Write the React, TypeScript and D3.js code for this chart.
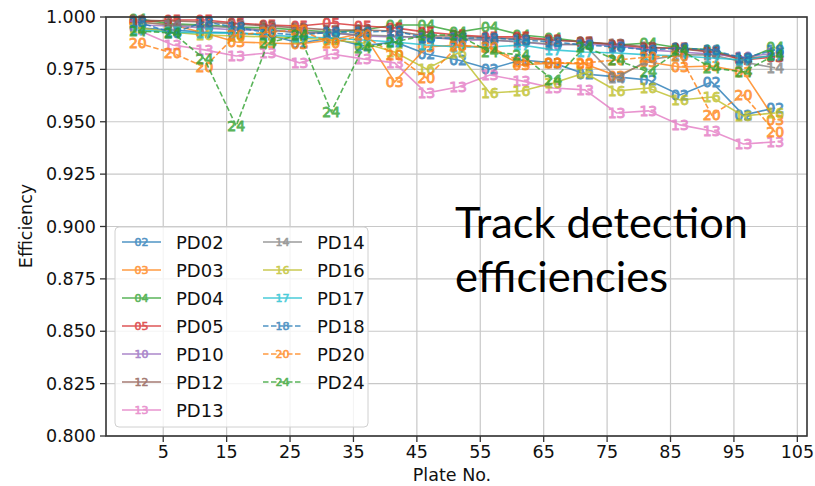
import React from "react";
import * as d3 from "d3";

const plates = [1, 6.5, 11.5, 16.5, 21.5, 26.5, 31.5, 36.5, 41.5, 46.5, 51.5, 56.5, 61.5, 66.5, 71.5, 76.5, 81.5, 86.5, 91.5, 96.5, 101.5];

const pd02 = [0.9948, 0.9938, 0.9928, 0.9924, 0.9914, 0.9876, 0.99, 0.9862, 0.9881, 0.9823, 0.9795, 0.9752, 0.9795, 0.9781, 0.9728, 0.9714, 0.9699, 0.9628, 0.969, 0.9532, 0.9566];
const pd03 = [0.9976, 0.9962, 0.9924, 0.9881, 0.9876, 0.9871, 0.989, 0.9924, 0.969, 0.9857, 0.9866, 0.9852, 0.9771, 0.9781, 0.9776, 0.9719, 0.9785, 0.9761, 0.9766, 0.9738, 0.9509];
const pd04 = [0.999, 0.9967, 0.9962, 0.9952, 0.9948, 0.9938, 0.9928, 0.9938, 0.9962, 0.9962, 0.9928, 0.9952, 0.9914, 0.99, 0.9881, 0.9866, 0.9876, 0.9852, 0.9843, 0.9795, 0.9857];
const pd05 = [0.9976, 0.9986, 0.9986, 0.9971, 0.9962, 0.9957, 0.9971, 0.9957, 0.9948, 0.9928, 0.9914, 0.9905, 0.9905, 0.989, 0.9881, 0.9866, 0.9852, 0.9852, 0.9833, 0.9795, 0.9809];
const pd10 = [0.9962, 0.9957, 0.9948, 0.9938, 0.9938, 0.9928, 0.9924, 0.9909, 0.9905, 0.9905, 0.989, 0.989, 0.9881, 0.9866, 0.9871, 0.9862, 0.9843, 0.9833, 0.9823, 0.9809, 0.9828];
const pd12 = [0.9986, 0.9981, 0.9976, 0.9967, 0.9957, 0.9948, 0.9938, 0.9938, 0.9933, 0.9909, 0.9909, 0.99, 0.9895, 0.989, 0.9881, 0.9871, 0.9857, 0.9847, 0.9833, 0.9804, 0.9814];
const pd13 = [0.9938, 0.9866, 0.9843, 0.9814, 0.9828, 0.9781, 0.9823, 0.98, 0.9781, 0.9637, 0.9666, 0.9723, 0.9695, 0.9661, 0.9652, 0.9542, 0.9552, 0.9485, 0.9456, 0.9394, 0.9404];
const pd14 = [0.9976, 0.9962, 0.9957, 0.9948, 0.9938, 0.9924, 0.9924, 0.9914, 0.9909, 0.99, 0.99, 0.989, 0.9881, 0.9871, 0.9866, 0.9709, 0.9795, 0.9819, 0.9819, 0.9785, 0.9757];
const pd16 = [0.9948, 0.9928, 0.9914, 0.9909, 0.9905, 0.99, 0.989, 0.9876, 0.9833, 0.9752, 0.9828, 0.9637, 0.9647, 0.9685, 0.9733, 0.9647, 0.9661, 0.9604, 0.9618, 0.9528, 0.9542];
const pd17 = [0.9938, 0.9928, 0.9924, 0.9924, 0.9914, 0.9905, 0.99, 0.989, 0.9881, 0.9866, 0.9857, 0.9857, 0.9866, 0.9843, 0.9833, 0.9828, 0.9819, 0.9814, 0.9804, 0.9795, 0.9819];
const pd18 = [0.9976, 0.9924, 0.9976, 0.9952, 0.9924, 0.9914, 0.9928, 0.9928, 0.9933, 0.99, 0.99, 0.99, 0.989, 0.9881, 0.9866, 0.9857, 0.9843, 0.9852, 0.9843, 0.9804, 0.9843];
const pd20 = [0.9876, 0.9828, 0.9761, 0.9914, 0.9928, 0.9938, 0.9876, 0.9914, 0.9819, 0.9709, 0.9862, 0.9857, 0.9785, 0.9781, 0.9781, 0.9795, 0.9809, 0.9814, 0.9532, 0.9628, 0.9451];
const pd24 = [0.9933, 0.9924, 0.98, 0.948, 0.9876, 0.9914, 0.9547, 0.9852, 0.9881, 0.9914, 0.9914, 0.9833, 0.9819, 0.9699, 0.9857, 0.9795, 0.9738, 0.9843, 0.9757, 0.9738, 0.9819];

const seriesNames = ["PD02", "PD03", "PD04", "PD05", "PD10", "PD12", "PD13", "PD14", "PD16", "PD17", "PD18", "PD20", "PD24"];
const markerLabels = ["02", "03", "04", "05", "10", "12", "13", "14", "16", "17", "18", "20", "24"];
const seriesValues = [pd02, pd03, pd04, pd05, pd10, pd12, pd13, pd14, pd16, pd17, pd18, pd20, pd24];
const seriesColors = ["#1f77b4", "#ff7f0e", "#2ca02c", "#d62728", "#9467bd", "#8c564b", "#e377c2", "#7f7f7f", "#bcbd22", "#17becf", "#1f77b4", "#ff7f0e", "#2ca02c"];
const seriesDashed = [false, false, false, false, false, false, false, false, false, false, true, true, true];

const xTicks = [5, 15, 25, 35, 45, 55, 65, 75, 85, 95, 105];
const yTicks = [0.8, 0.825, 0.85, 0.875, 0.9, 0.925, 0.95, 0.975, 1.0];

const titleLines = ["Track detection", "efficiencies"];

const FONT = "'DejaVu Sans', sans-serif";

export default function App() {
  const W = 815;
  const H = 486;
  const left = 106, right = 807, top = 17, bottom = 436;
  const x = d3.scaleLinear().domain([-4.025, 106.525]).range([left, right]);
  const y = d3.scaleLinear().domain([0.8, 1.0]).range([bottom, top]);
  const line = d3
    .line<number>()
    .x((_, i) => x(plates[i]))
    .y((d) => y(d));

  const legendX = 115, legendY = 227, legendW = 253, legendH = 200;
  const rowH = 28;
  const firstRow = 242;

  return (
    <svg
      width={W}
      height={H}
      viewBox={`0 0 ${W} ${H}`}
      style={{ position: "absolute", left: 0, top: 0, background: "#fff" }}
      fontFamily={FONT}
    >
      <rect x={0} y={0} width={W} height={H} fill="#fff" />
      {/* grid */}
      <g stroke="#c8c8c8" strokeWidth={1.2}>
        {xTicks.map((t) => (
          <line key={"gx" + t} x1={x(t)} x2={x(t)} y1={top} y2={bottom} />
        ))}
        {yTicks.map((t) => (
          <line key={"gy" + t} x1={left} x2={right} y1={y(t)} y2={y(t)} />
        ))}
      </g>
      {/* series */}
      {seriesValues.map((vals, si) => (
        <g key={seriesNames[si]} opacity={0.78}>
          <path
            d={line(vals) || ""}
            fill="none"
            stroke={seriesColors[si]}
            strokeWidth={1.6}
            strokeDasharray={seriesDashed[si] ? "5.5,2.5" : undefined}
          />
          {vals.map((v, i) => (
            <text
              key={i}
              x={x(plates[i])}
              y={y(v)}
              textAnchor="middle"
              dominantBaseline="central"
              fontSize={14}
              fill={seriesColors[si]}
              stroke={seriesColors[si]}
              strokeWidth={0.9}
            >
              {markerLabels[si]}
            </text>
          ))}
        </g>
      ))}
      {/* axes frame */}
      <rect x={left} y={top} width={right - left} height={bottom - top} fill="none" stroke="#333" strokeWidth={1.6} />
      {/* ticks */}
      <g stroke="#333" strokeWidth={1.3}>
        {xTicks.map((t) => (
          <line key={"tx" + t} x1={x(t)} x2={x(t)} y1={bottom} y2={bottom + 6} />
        ))}
        {yTicks.map((t) => (
          <line key={"ty" + t} x1={left - 6} x2={left} y1={y(t)} y2={y(t)} />
        ))}
      </g>
      <g fontSize={17.5} fill="#111">
        {xTicks.map((t) => (
          <text key={"lx" + t} x={x(t)} y={bottom + 22} textAnchor="middle">
            {t}
          </text>
        ))}
        {yTicks.map((t) => (
          <text key={"ly" + t} x={left - 10} y={y(t)} textAnchor="end" dominantBaseline="central">
            {d3.format(".3f")(t)}
          </text>
        ))}
      </g>
      <text x={452} y={481} textAnchor="middle" fontSize={17.5} fill="#111">
        Plate No.
      </text>
      <text
        transform={`translate(32,226) rotate(-90)`}
        textAnchor="middle"
        fontSize={17.5}
        fill="#111"
      >
        Efficiency
      </text>
      {/* legend */}
      <rect x={legendX} y={legendY} width={legendW} height={legendH} rx={4} fill="#fff" fillOpacity={0.8} stroke="#d0d0d0" strokeWidth={1} />
      {seriesNames.map((name, si) => {
        const col = si < 7 ? 0 : 1;
        const row = si < 7 ? si : si - 7;
        const hx = col === 0 ? 122 : 263;
        const tx = col === 0 ? 176 : 317;
        const cy = firstRow + row * rowH;
        return (
          <g key={"leg" + name}>
            <g opacity={0.78}>
              <line
                x1={hx}
                x2={hx + 39}
                y1={cy}
                y2={cy}
                stroke={seriesColors[si]}
                strokeWidth={1.6}
                strokeDasharray={seriesDashed[si] ? "5.5,2.5" : undefined}
              />
              <text
                x={hx + 19.5}
                y={cy}
                textAnchor="middle"
                dominantBaseline="central"
                fontSize={11}
                fill={seriesColors[si]}
                stroke={seriesColors[si]}
                strokeWidth={0.6}
              >
                {markerLabels[si]}
              </text>
            </g>
            <text x={tx} y={cy} dominantBaseline="central" fontSize={18} fill="#111">
              {name}
            </text>
          </g>
        );
      })}
      {/* title overlay */}
      <g fontFamily="Lato, 'Open Sans', sans-serif" fontSize={43} fill="#000">
        <text x={455} y={238} textLength={293} lengthAdjust="spacingAndGlyphs">
          {titleLines[0]}
        </text>
        <text x={455} y={292} textLength={213} lengthAdjust="spacingAndGlyphs">
          {titleLines[1]}
        </text>
      </g>
    </svg>
  );
}
